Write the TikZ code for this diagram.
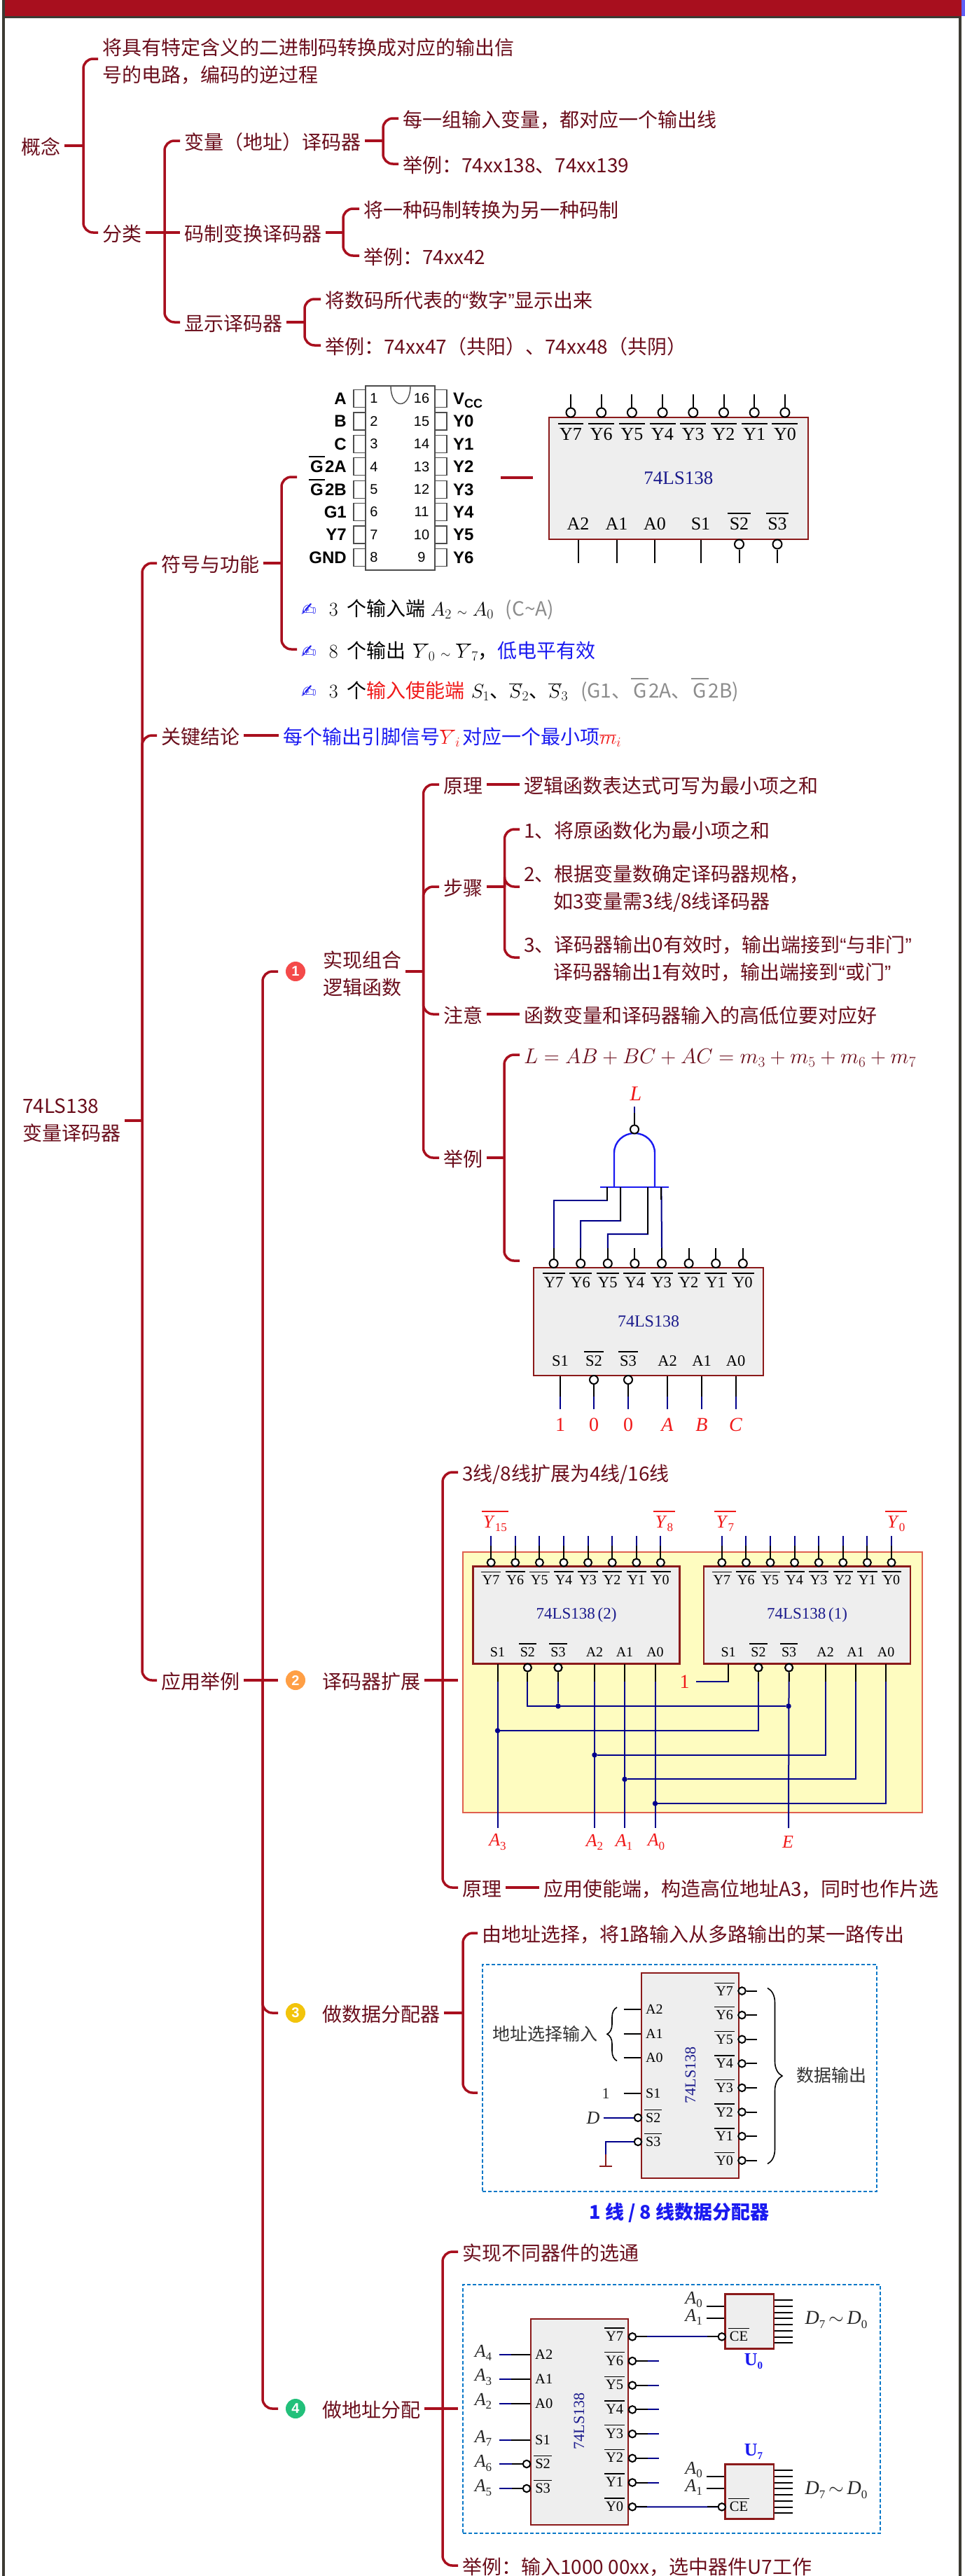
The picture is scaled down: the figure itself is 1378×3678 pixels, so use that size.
\documentclass[tikz,border=0pt]{standalone}
\usepackage{fix-cm}
\usepackage{fontspec}
\setmainfont{Noto Sans CJK SC}
\newfontfamily\tms{Liberation Serif}
\newfontfamily\hvb{Liberation Sans}
\newfontfamily\djv{DejaVu Sans}
\usetikzlibrary{decorations.pathreplacing}
\definecolor{mapred}{HTML}{A80F1E}
\definecolor{maptext}{HTML}{6A0D1B}
\definecolor{frame}{HTML}{3C3A33}
\definecolor{chipred}{HTML}{8B1A1A}
\definecolor{chipfill}{HTML}{EEEEEE}
\definecolor{chipblue}{HTML}{1A1A8C}
\definecolor{wirenavy}{HTML}{00008B}
\definecolor{gateblue}{HTML}{1A1AF0}
\definecolor{labred}{HTML}{F01818}
\definecolor{dashblue}{HTML}{0A78C8}
\definecolor{boxyellow}{HTML}{FEFCC0}
\definecolor{boxline}{HTML}{E0604F}
\definecolor{numa}{HTML}{F44A4A}
\definecolor{numb}{HTML}{FF9F45}
\definecolor{numc}{HTML}{F2C40C}
\definecolor{numd}{HTML}{22C07A}
\newcommand{\fs}[1]{\fontsize{#1}{#1}\selectfont}
\newcommand{\ovl}[1]{\vbox{\hrule height .07em \kern .2em \hbox{\kern .1em #1\kern .1em}}}
\newcommand{\varsub}[2]{\textit{#1}\raisebox{-.2em}{\fs{17}#2}}
\newcommand{\qtl}{{\hvb “}}
\newcommand{\qtr}{{\hvb ”}}
\newcommand{\pen}{{\djv\fs{26}\color{gateblue}✍}\hspace{18pt}}
\newcommand{\tld}{\hspace{8pt}{\fs{18}$\sim$}\hspace{8pt}}
\tikzset{
  link/.style={draw=mapred, line width=3.5pt, rounded corners=14pt},
  txt/.style={anchor=west, inner xsep=6pt, inner ysep=0pt, text=maptext, text height=28pt, text depth=3pt, font=\fontsize{28}{39}\selectfont},
  txtm/.style={anchor=west, inner xsep=6pt, inner ysep=0pt, text=maptext, align=left, font=\fontsize{28}{39}\selectfont},
  numdot/.style={circle, text=white, inner sep=0pt, minimum size=28pt, outer sep=11pt, font=\hvb\bfseries\fs{20}},
  chipbox/.style={draw=chipred, fill=chipfill, line width=2.5pt, text=chipblue, inner sep=0pt},
  chiplab/.style={anchor=base, inner sep=0pt, text=black},
  bubble/.style={circle, draw=black, fill=white, line width=2pt, minimum size=13pt, inner sep=0pt},
  pin/.style={draw=black, line width=2pt},
  wire/.style={draw=wirenavy, line width=2pt},
  dotnode/.style={circle, fill=wirenavy, inner sep=0pt, minimum size=7.5pt},
  redlab/.style={text=labred, inner sep=0pt, font=\tms\fs{26}},
  blklab/.style={text=black!85, inner sep=0pt, font=\tms\fs{26}},
  gate/.style={draw=gateblue, line width=2.4pt},
  dashbox/.style={draw=dashblue, line width=2pt, dash pattern=on 5pt off 3pt},
}
\begin{document}
\begin{tikzpicture}[x=1pt, y=-1pt]
  \useasboundingbox (0,0) rectangle (1378,3678);

  % cornice
  \fill[frame] (3,0) rectangle (6.5,3678);
  \fill[frame] (1369,0) rectangle (1372.5,3678);
  \fill[mapred] (6.5,0) rectangle (1372.5,23);
  \fill[frame] (3,23) rectangle (1372.5,25.5);
  \fill[gateblue!70] (1372.5,0) rectangle (1378,23);

  % concept
  \node[txt] (gainian) at (24,208) {概念};
  \coordinate (tr1) at (119,208);
  \node[txtm] (dingyi) at (140,88) {将具有特定含义的二进制码转换成对应的输出信\\号的电路，编码的逆过程};
  \node[txt] (fenlei) at (140,332) {分类};
  \draw[link] (gainian.east) -- (tr1);
  \draw[link] (tr1) |- ([yshift=4pt]dingyi.west);
  \draw[link] (tr1) |- (fenlei.west);

  \coordinate (tr2) at (235,332);
  \node[txt] (bianliang) at (257,201) {变量（地址）译码器};
  \node[txt] (mazhi) at (257,332) {码制变换译码器};
  \node[txt] (xianshi) at (257,460) {显示译码器};
  \draw[link] (fenlei.east) -- (mazhi.west);
  \draw[link] (tr2) |- (bianliang.west);
  \draw[link] (tr2) |- (xianshi.west);

  \coordinate (tr3a) at (547,201);
  \node[txt] (bl1) at (569,169) {每一组输入变量，都对应一个输出线};
  \node[txt] (bl2) at (569,234) {举例：74xx138、74xx139};
  \draw[link] (bianliang.east) -- (tr3a);
  \draw[link] (tr3a) |- (bl1.west);
  \draw[link] (tr3a) |- (bl2.west);

  \coordinate (tr3b) at (490,332);
  \node[txt] (mz1) at (513,298) {将一种码制转换为另一种码制};
  \node[txt] (mz2) at (513,365) {举例：74xx42};
  \draw[link] (mazhi.east) -- (tr3b);
  \draw[link] (tr3b) |- (mz1.west);
  \draw[link] (tr3b) |- (mz2.west);

  \coordinate (tr3c) at (435,460);
  \node[txt] (xs1) at (458,427) {将数码所代表的\qtl 数字\qtr 显示出来};
  \node[txt] (xs2) at (458,493) {举例：74xx47（共阳）、74xx48（共阴）};
  \draw[link] (xianshi.east) -- (tr3c);
  \draw[link] (tr3c) |- (xs1.west);
  \draw[link] (tr3c) |- (xs2.west);

  % root
  \node[txtm] (root) at (26,1600) {74LS138\\变量译码器};
  \coordinate (trR) at (203,1600);
  \node[txt] (fuhao) at (224,804) {符号与功能};
  \node[txt] (guanjian) at (224,1050) {关键结论};
  \node[txt] (yingyong) at (224,2399) {应用举例};
  \draw[link] (root.east) -- (trR);
  \draw[link] (trR) |- (fuhao.west);
  \draw[link] (trR) |- (guanjian.west);
  \draw[link] (trR) |- (yingyong.west);

  % symbol and function
  \coordinate (trS) at (402,804);
  \coordinate (dipin) at (424,681);
  \coordinate (dipout) at (715,682);
  \coordinate (chipin) at (761,682);
  \node[txt, text=black] (row1) at (424,867) {\pen$3$\hspace{13pt}个输入端\hspace{7pt}$A_2$\tld$A_0$\hspace{17pt}{\color{black!45}(C\textasciitilde A)}};
  \node[txt, text=black] (row2) at (424,927) {\pen$8$\hspace{13pt}个输出\hspace{10pt}$\overline{Y}_0$\tld$\overline{Y}_7$，{\color{gateblue}低电平有效}};
  \node[txt, text=black] (row3) at (424,984) {\pen$3$\hspace{13pt}个{\color{labred}输入使能端}\hspace{9pt}$S_1$、$\overline{S}_2$、$\overline{S}_3$\hspace{18pt}{\color{black!45}(G1、\ovl{G}2A、\ovl{G}2B)}};
  \draw[link] (fuhao.east) -- (trS);
  \draw[link] (trS) |- (dipin);
  \draw[link] (trS) |- (row2.west);
  \draw[link] (dipout) -- (chipin);

  % DIP16
  \node[draw=black!70, line width=1.4pt, minimum width=99pt, minimum height=263pt, inner sep=0pt] (dip) at (571.5,682.5) {};
  \draw[black!70, line width=1.4pt] (558,551) .. controls (558,585) and (586,585) .. (586,551);
  \foreach \la/\ra [count=\n from 0] in {A/V\raisebox{-.2em}{\fs{18}CC},B/Y0,C/Y1,\ovl{G}2A/Y2,\ovl{G}2B/Y3,G1/Y4,Y7/Y5,GND/Y6} {
    \pgfmathsetmacro\y{569+32.4*\n}
    \pgfmathtruncatemacro\numl{\n+1}
    \pgfmathtruncatemacro\numr{16-\n}
    \draw[black!70, line width=1.2pt] (505,\y-12.5) rectangle (522,\y+12.5);
    \draw[black!70, line width=1.2pt] (621,\y-12.5) rectangle (638,\y+12.5);
    \node[anchor=base east, inner sep=0pt, font=\hvb\bfseries\fs{24}] (dl\n) at (495,\y+8.5) {\la};
    \node[anchor=base west, inner sep=0pt, font=\hvb\bfseries\fs{24}] (dr\n) at (647,\y+8.5) {\ra};
    \node[inner sep=0pt, font=\hvb\fs{20}] (nl\n) at (534,\y) {\numl};
    \node[inner sep=0pt, font=\hvb\fs{20}] (nr\n) at (602,\y) {\numr};
  }

  % 74LS138
  \node[chipbox, minimum width=370pt, minimum height=174pt, font=\tms\fs{27}] (chipA) at (968.75,683) {74LS138};
  \foreach \i [count=\n from 0] in {7,6,...,0} {
    \pgfmathsetmacro\x{815+43.7*\n}
    \node[bubble] (ay\i) at (\x,589) {};
    \coordinate (at\i) at (\x,563);
    \draw[pin] (ay\i) -- (at\i);
    \node[chiplab, font=\tms\fs{26}] (al\i) at (\x,628) {\ovl{Y\i}};
  }
  \foreach \t/\x in {A2/825.5, A1/880.5, A0/935, S1/1000.5} {
    \node[chiplab, font=\tms\fs{26}] (al\t) at (\x,756) {\t};
    \coordinate (ae\t) at (\x,804);
    \draw[pin] (ae\t) -- (ae\t |- chipA.south);
  }
  \foreach \t/\x in {S2/1055.5, S3/1110} {
    \node[chiplab, font=\tms\fs{26}] (al\t) at (\x,756) {\ovl{\t}};
    \node[bubble] (ab\t) at (\x,777) {};
    \coordinate (ae\t) at (\x,804);
    \draw[pin] (ae\t) -- (ab\t);
  }

  % key result
  \node[txt, text=gateblue] (guanjiant) at (398,1050) {每个输出引脚信号{\color{labred}$\overline{Y}_i$}\hspace{3pt}对应一个最小项{\color{labred}$\overline{m}_i$}};
  \draw[link] (guanjian.east) -- (guanjiant.west);

  % application
  \coordinate (trP) at (375,2399);
  \node[numdot, fill=numa] (num1) at (422,1387) {1};
  \node[numdot, fill=numb] (num2) at (422,2399) {2};
  \node[numdot, fill=numc] (num3) at (422,2874) {3};
  \node[numdot, fill=numd] (num4) at (422,3439) {4};
  \draw[link] (yingyong.east) -- (num2.west);
  \draw[link] (trP) |- (num1.west);
  \draw[link] (trP) |- (num3.west);
  \draw[link] (trP) |- (num4.west);

  % 1 combinational logic
  \node[txtm] (shixian) at (455,1390) {实现组合\\逻辑函数};
  \coordinate (trA) at (604.5,1387);
  \node[txt] (yuanli) at (627,1120) {原理};
  \node[txt] (buzhou) at (627,1266) {步骤};
  \node[txt] (zhuyi) at (627,1448) {注意};
  \node[txt] (juli) at (627,1653) {举例};
  \draw[link] ([yshift=3pt]shixian.east) -- (trA);
  \draw[link] (trA) |- (yuanli.west);
  \draw[link] (trA) |- (buzhou.west);
  \draw[link] (trA) |- (zhuyi.west);
  \draw[link] (trA) |- (juli.west);

  \node[txt] (yuanlit) at (742,1120) {逻辑函数表达式可写为最小项之和};
  \draw[link] (yuanli.east) -- (yuanlit.west);
  \node[txt] (zhuyit) at (742,1448) {函数变量和译码器输入的高低位要对应好};
  \draw[link] (zhuyi.east) -- (zhuyit.west);

  \coordinate (trE) at (720.5,1266);
  \node[txt] (step1) at (742,1184) {1、将原函数化为最小项之和};
  \node[txtm] (step2) at (742,1269) {2、根据变量数确定译码器规格，\\\hspace*{42pt}如3变量需3线/8线译码器};
  \node[txtm] (step3) at (742,1369) {3、译码器输出0有效时，输出端接到\qtl 与非门\qtr\\\hspace*{42pt}译码器输出1有效时，输出端接到\qtl 或门\qtr};
  \draw[link] (buzhou.east) -- (trE);
  \draw[link] (trE) |- (step1.west);
  \draw[link] (trE) |- ([yshift=3pt]step2.west);
  \draw[link] (trE) |- ([yshift=2pt]step3.west);

  \coordinate (trF) at (720,1653);
  \coordinate (juliend) at (742,1800);
  \node[txt, font=\fs{30.4}] (formula) at (742,1506) {$L=AB+BC+AC=m_3+m_5+m_6+m_7$};
  \draw[link] (juli.east) -- (trF);
  \draw[link] (trF) |- (formula.west);
  \draw[link] (trF) |- (juliend);

  % gate
  \node[redlab, font=\tms\itshape\fs{30}] (labL) at (908,1562) {L};
  \coordinate (gateout) at (906,1580);
  \coordinate (gatel) at (877,1695);
  \coordinate (gater) at (935,1695);
  \coordinate (basel) at (857,1695);
  \coordinate (baser) at (955,1695);
  \draw[gate] (gatel) -- (877,1646) arc[start angle=180, end angle=0, x radius=29pt, y radius=28pt] -- (gater);
  \draw[gate] (basel) -- (baser);
  \node[bubble, minimum size=12pt] (gatebub) at (906,1612.5) {};
  \draw[wire] (gatebub) -- (gateout);
  \draw[pin] (gatebub.north) -- ++(0,-17);

  % 74LS138 of the example
  \node[chipbox, minimum width=328pt, minimum height=154pt, font=\tms\fs{24}] (chipB) at (926,1887) {74LS138};
  \foreach \i [count=\n from 0] in {7,6,...,0} {
    \pgfmathsetmacro\x{790.6+38.6*\n}
    \node[bubble, minimum size=12pt] (by\i) at (\x,1804) {};
    \coordinate (ct\i) at (\x,1782);
    \draw[pin] (by\i) -- (ct\i);
    \node[chiplab, font=\tms\fs{22.5}] (bl\i) at (\x,1838) {\ovl{Y\i}};
  }
  \foreach \t/\x/\v in {S1/800/1, A2/953/\textit{A}, A1/1002/\textit{B}, A0/1050.6/\textit{C}} {
    \node[chiplab, font=\tms\fs{22.5}] (bl\t) at (\x,1950) {\t};
    \coordinate (be\t) at (\x,2012);
    \draw[wire] (be\t) -- (be\t |- chipB.south);
    \draw[pin] (be\t |- chipB.south) -- ++(0,29);
    \node[redlab, font=\tms\fs{28}] (bv\t) at (\x,2034) {\v};
  }
  \foreach \t/\x in {S2/848, S3/897} {
    \node[chiplab, font=\tms\fs{22.5}] (bl\t) at (\x,1950) {\ovl{\t}};
    \node[bubble, minimum size=12pt] (bb\t) at (\x,1970) {};
    \coordinate (be\t) at (\x,2012);
    \draw[wire] (be\t) -- (bb\t);
    \draw[pin] (bb\t.south) -- ++(0,17);
    \node[redlab, font=\tms\fs{28}] (bv\t) at (\x,2034) {0};
  }
  \coordinate (gin1) at (867,1695);
  \coordinate (gin2) at (886,1695);
  \coordinate (gin3) at (925,1695);
  \coordinate (gin4) at (944.4,1695);
  \coordinate (m1) at (790.6,1713.5);
  \coordinate (m2) at (829.2,1743);
  \coordinate (m3) at (867.8,1762);
  \draw[wire] (gin1) |- (m1) -- (ct7);
  \draw[wire] (gin2) |- (m2) -- (ct6);
  \draw[wire] (gin3) |- (m3) -- (ct5);
  \draw[wire] (gin4) -- (ct3);
  \draw[pin] (gin1) -- (gin1 |- m1);
  \draw[pin] (gin2) -- (gin2 |- m2);
  \draw[pin] (gin3) -- (gin3 |- m3);
  \draw[pin] (gin4) -- ++(0,18);

  % 2 expansion
  \node[txt] (kuozhan) at (454,2399) {译码器扩展};
  \coordinate (trB) at (632,2399);
  \coordinate (kzend) at (654,2399);
  \node[txt] (kz1) at (654,2102) {3线/8线扩展为4线/16线};
  \node[txt] (kz2) at (654,2695) {原理};
  \node[txt] (kz2t) at (770,2695) {应用使能端，构造高位地址A3，同时也作片选};
  \draw[link] (kuozhan.east) -- (kzend);
  \draw[link] (trB) |- (kz1.west);
  \draw[link] (trB) |- (kz2.west);
  \draw[link] (kz2.east) -- (kz2t.west);

  \node[draw=boxline, fill=boxyellow, line width=1.8pt, minimum width=656pt, minimum height=371.5pt, inner sep=0pt] (yellowbox) at (989,2402) {};
  \node[chipbox, minimum width=295pt, minimum height=139pt, font=\tms\fs{23}] (chipL) at (823,2306) {74LS138\,(2)};
  \node[chipbox, minimum width=295pt, minimum height=139pt, font=\tms\fs{23}] (chipR) at (1152.5,2306) {74LS138\,(1)};
  \foreach \c/\dx in {L/0, R/329.6} {
    \foreach \i [count=\n from 0] in {7,6,...,0} {
      \pgfmathsetmacro\x{701.2+\dx+34.6*\n}
      \node[bubble, minimum size=11pt] (\c y\i) at (\x,2231) {};
      \coordinate (\c t\i) at (\x,2192.5);
      \draw[wire] (\c y\i) -- (\c t\i);
      \draw[pin] (\c y\i.north) -- ++(0,-18);
      \node[chiplab, font=\tms\fs{20}] (\c l\i) at (\x,2262) {\ovl{Y\i}};
    }
    \foreach \t/\x in {S1/710.5, A2/849, A1/892, A0/935.5} {
      \node[chiplab, font=\tms\fs{20}] (\c l\t) at (\x+\dx,2365) {\t};
      \coordinate (p\c\t) at (\x+\dx,2375.7);
    }
    \foreach \t/\x in {S2/753.4, S3/797} {
      \node[chiplab, font=\tms\fs{20}] (\c l\t) at (\x+\dx,2365) {\ovl{\t}};
      \node[bubble, minimum size=11pt] (b\c\t) at (\x+\dx,2381) {};
    }
  }
  \node[redlab] (y15) at (707,2181) [anchor=base] {\ovl{\varsub{Y}{15}}};
  \node[redlab] (y8) at (948.6,2181) [anchor=base] {\ovl{\varsub{Y}{8}}};
  \node[redlab] (y7) at (1035.6,2181) [anchor=base] {\ovl{\varsub{Y}{7}}};
  \node[redlab] (y0) at (1279.7,2181) [anchor=base] {\ovl{\varsub{Y}{0}}};
  \node[redlab, font=\tms\fs{28}] (labone) at (980,2401) {\,1\,\,};
  \node[dotnode] (d1) at (797,2436) {};
  \node[dotnode] (d2) at (1126,2436) {};
  \node[dotnode] (d3) at (710.5,2471) {};
  \node[dotnode] (d4) at (849,2505.7) {};
  \node[dotnode] (d5) at (892,2540.4) {};
  \node[dotnode] (d6) at (935.5,2575) {};
  \coordinate (endA3) at (710.5,2610);
  \coordinate (endA2) at (849,2610);
  \coordinate (endA1) at (892,2610);
  \coordinate (endA0) at (935.5,2610);
  \coordinate (endE) at (1126,2610);
  \node[redlab] (labA3) at (710.5,2630) {\varsub{A}{3}};
  \node[redlab] (labA2) at (849,2630) {\varsub{A}{2}};
  \node[redlab] (labA1) at (891,2630) {\varsub{A}{1}};
  \node[redlab] (labA0) at (937,2630) {\varsub{A}{0}};
  \node[redlab] (labE) at (1125,2630) {\textit{E}};
  \draw[wire] (pLS1) -- (endA3);
  \draw[wire] (pLA2) -- (endA2);
  \draw[wire] (pLA1) -- (endA1);
  \draw[wire] (pLA0) -- (endA0);
  \draw[wire] (bRS3) -- (endE);
  \draw[wire] (bLS2) |- (d2);
  \draw[wire] (bLS3) -- (d1);
  \draw[wire] (bRS2) |- (d3);
  \draw[wire] (pRA2) |- (d4);
  \draw[wire] (pRA1) |- (d5);
  \draw[wire] (pRA0) |- (d6);
  \draw[wire] (pRS1) |- (labone.east);
  \coordinate (ovy) at (0,2401);
  \foreach \p in {pLS1,pLA2,pLA1,pLA0,pRS1,pRA2,pRA1,pRA0,bLS2,bLS3,bRS2,bRS3} {
    \draw[pin] (\p) -- (\p |- ovy);
  }
  \foreach \p in {bLS2,bLS3,bRS2,bRS3} {
    \node[bubble, minimum size=11pt] at (\p) {};
  }

  % 3 demultiplexer
  \node[txt] (fenpei) at (454,2874) {做数据分配器};
  \coordinate (trC) at (661,2874);
  \coordinate (fpend) at (682,2988);
  \node[txt] (fp1) at (682,2760) {由地址选择，将1路输入从多路输出的某一路传出};
  \draw[link] (fenpei.east) -- (trC);
  \draw[link] (trC) |- (fp1.west);
  \draw[link] (trC) |- (fpend);

  \node[dashbox, minimum width=563pt, minimum height=324pt, inner sep=0pt] (boxV) at (970.5,2967) {};
  \node[chipbox, minimum width=139pt, minimum height=293pt] (chipV) at (985.5,2963.5) {};
  \node[rotate=90, inner sep=0pt, text=chipblue, font=\tms\fs{22}] (vname) at (986,2963) {74LS138};
  \foreach \t/\y in {A2/2869, A1/2903.6, A0/2938, S1/2989} {
    \node[chiplab, anchor=base west, font=\tms\fs{20}] (vl\t) at (922,\y+6.6) {\t};
    \coordinate (vi\t) at (890.7,\y);
    \draw[pin] (vi\t) -- (vi\t -| chipV.west);
  }
  \foreach \t/\y in {S2/3023.6, S3/3058} {
    \node[chiplab, anchor=base west, font=\tms\fs{20}] (vl\t) at (920,\y+6.6) {\ovl{\t}};
    \node[bubble, minimum size=10.5pt] (vb\t) at (911,\y) {};
  }
  \foreach \i [count=\n from 0] in {7,6,...,0} {
    \pgfmathsetmacro\y{2842.5+34.6*\n}
    \node[chiplab, font=\tms\fs{20}] (vl\i) at (1034.7,\y+6.6) {\ovl{Y\i}};
    \node[bubble, minimum size=10.5pt] (vy\i) at (1059.5,\y) {};
    \coordinate (ve\i) at (1080.6,\y);
    \draw[pin] (vy\i) -- (ve\i);
  }
  \node[blklab, font=\tms\fs{22}] (vone) at (865,2989) {1};
  \node[blklab, font=\tms\itshape\fs{26}] (labD) at (847,3023.6) {D};
  \draw[wire] (labD.east) ++(5,0) -- (vbS2.west);
  \coordinate (gnd) at (865,3092.5);
  \coordinate (gndl) at (856,3092.5);
  \coordinate (gndr) at (874,3092.5);
  \draw[wire] (vbS3.west) -| (gnd);
  \draw[draw=chipred, line width=2pt] (gndl) -- (gndr);
  \draw[draw=chipred, line width=2pt] (gnd) -- ++(0,-17);
  \coordinate (bracelt) at (881,2866);
  \coordinate (braceld) at (881,2942.5);
  \coordinate (bracert) at (1096,2838.5);
  \coordinate (bracerd) at (1096,3089.5);
  \draw[line width=1.6pt, decorate, decoration={brace, amplitude=14pt}] (braceld) -- (bracelt);
  \draw[line width=1.6pt, decorate, decoration={brace, amplitude=21pt}] (bracert) -- (bracerd);
  \node[inner sep=0pt, text=black!80, font=\fs{25}] (addrin) at (778.7,2904) {地址选择输入};
  \node[inner sep=0pt, text=black!80, font=\fs{25}] (dataout) at (1187,2963) {数据输出};
  \node[inner sep=0pt, text=gateblue, font=\bfseries\fs{27}] (fpname) at (970,3159) {1 线 / 8 线数据分配器};

  % 4 address assignment
  \node[txt] (dizhi) at (454,3439) {做地址分配};
  \coordinate (trD) at (632,3439);
  \coordinate (dzend) at (654,3439);
  \node[txt] (dz1) at (654,3215) {实现不同器件的选通};
  \node[txt] (dz2) at (654,3663) {举例：输入1000 00xx，选中器件U7工作};
  \draw[link] (dizhi.east) -- (dzend);
  \draw[link] (trD) |- (dz1.west);
  \draw[link] (trD) |- (dz2.west);

  \node[dashbox, minimum width=596pt, minimum height=355pt, inner sep=0pt] (boxU) at (959,3439) {};
  \node[chipbox, minimum width=139pt, minimum height=294pt] (chipW) at (827.5,3458) {};
  \node[rotate=90, inner sep=0pt, text=chipblue, font=\tms\fs{22}] (wname) at (827,3456.7) {74LS138};
  \foreach \t/\num/\y in {A2/4/3362, A1/3/3397, A0/2/3431.7, S1/7/3484} {
    \node[chiplab, anchor=base west, font=\tms\fs{20.5}] (wl\t) at (764,\y+6.6) {\t};
    \node[blklab] (wa\t) at (690,\y-3) {\varsub{A}{\num}};
    \coordinate (wi\t) at (713.3,\y);
    \draw[wire] (wi\t) -- (wi\t -| chipW.west);
    \draw[pin] (wi\t -| chipW.west) -- ++(-27,0);
  }
  \foreach \t/\num/\y in {S2/6/3518, S3/5/3553} {
    \node[chiplab, anchor=base west, font=\tms\fs{20.5}] (wl\t) at (762,\y+6.6) {\ovl{\t}};
    \node[blklab] (wa\t) at (690,\y-1) {\varsub{A}{\num}};
    \node[bubble, minimum size=10.5pt] (wb\t) at (752,\y) {};
    \coordinate (wi\t) at (713.3,\y);
    \draw[wire] (wi\t) -- (wb\t);
    \draw[pin] (wb\t.west) -- ++(-15,0);
  }
  \foreach \i [count=\n from 0] in {7,6,...,0} {
    \pgfmathsetmacro\y{3336.3+34.7*\n}
    \node[chiplab, font=\tms\fs{20.5}] (wl\i) at (877.6,\y+6) {\ovl{Y\i}};
    \node[bubble, minimum size=10.5pt] (wy\i) at (903,\y) {};
  }
  \foreach \i in {6,...,1} {
    \coordinate (we\i) at (941,0 |- wy\i);
    \draw[wire] (wy\i) -- (we\i);
    \draw[pin] (wy\i.east) -- ++(16,0);
  }
  \foreach \c/\yt/\src in {U0/3275.3/wy7, U7/3518.3/wy0} {
    \node[chipbox, minimum width=69.3pt, minimum height=78.4pt] (chip\c) at (1070.3,\yt+39.2) {};
    \node[bubble, minimum size=10.5pt] (ce\c) at (1030.8,\yt+61) {};
    \node[chiplab, font=\tms\fs{20.5}] (cel\c) at (1055,\yt+67.5) {\ovl{CE}};
    \draw[wire] (\src) -- (ce\c);
    \draw[pin] (\src.east) -- ++(15,0);
    \draw[pin] (ce\c.west) -- ++(-15,0);
    \coordinate (ia\c) at (1009,\yt+17.4);
    \coordinate (ib\c) at (1009,\yt+34.7);
    \draw[pin] (ia\c) -- (ia\c -| chip\c.west);
    \draw[pin] (ib\c) -- (ib\c -| chip\c.west);
    \node[blklab] (iaa\c) at (990.7,\yt+8) {\varsub{A}{0}};
    \node[blklab] (ibb\c) at (990.7,\yt+33) {\varsub{A}{1}};
    \foreach \n in {0,...,7} {
      \coordinate (o\c\n) at (1132.3,\yt+8.8+8.75*\n);
      \draw[pin] (o\c\n) -- (o\c\n -| chip\c.east);
    }
    \node[blklab, font=\tms\fs{28}] (dd\c) at (1194,\yt+37) {\varsub{D}{7}\,$\sim$\,\varsub{D}{0}};
  }
  \node[inner sep=0pt, text=gateblue, font=\tms\bfseries\fs{26}] (u0) at (1076,3371.7) {U\raisebox{-.2em}{\fs{15}0}};
  \node[inner sep=0pt, text=gateblue, font=\tms\bfseries\fs{26}] (u7) at (1076,3500.7) {U\raisebox{-.2em}{\fs{15}7}};
\end{tikzpicture}
\end{document}
